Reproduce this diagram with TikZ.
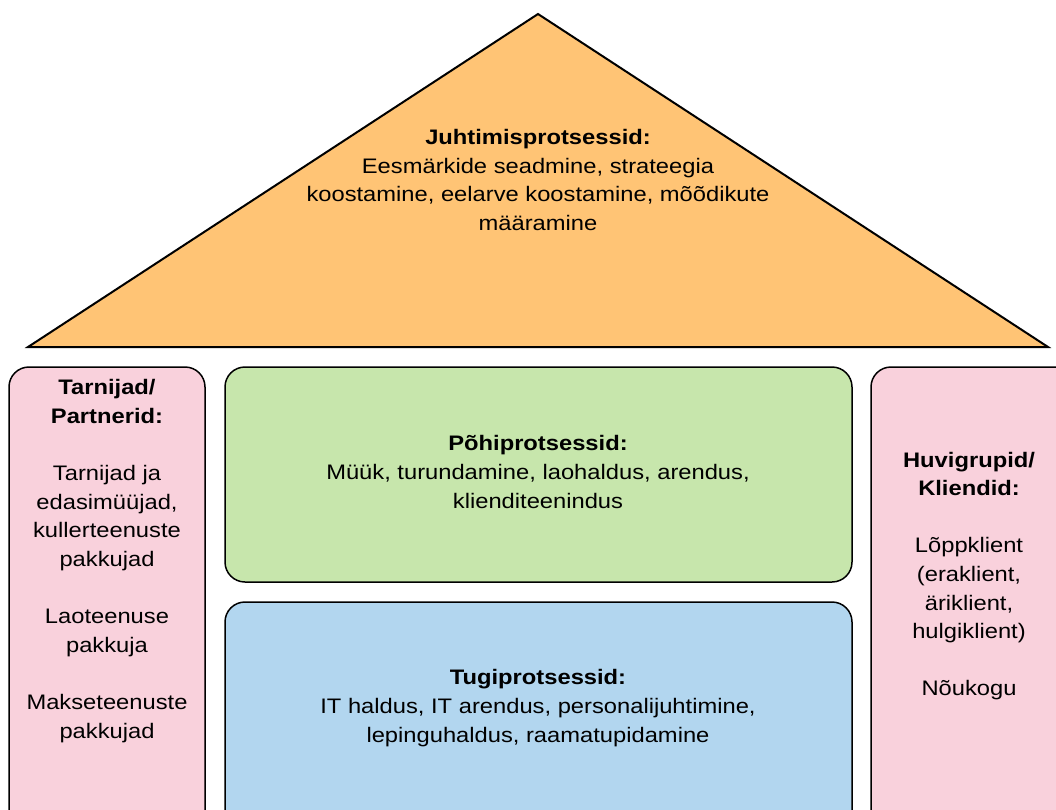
\documentclass[tikz,border=0pt]{standalone}
\usepackage{fontspec}
\setmainfont{Liberation Sans}[FakeStretch=1.13]
\definecolor{roofc}{HTML}{FFC475}
\definecolor{pinkc}{HTML}{F9D1DC}
\definecolor{greenc}{HTML}{C7E6AC}
\definecolor{bluec}{HTML}{B2D6EF}
\begin{document}
\begin{tikzpicture}[x=1pt,y=-1pt,
  panel/.style={draw=black,line width=1.5pt,rounded corners=20pt},
  label/.style={align=center,font=\fontsize{21}{28.6}\selectfont,inner sep=0pt}]
\useasboundingbox (0,0) rectangle (1056,809);
\clip (0,0) rectangle (1056,809);
% roof
\coordinate (apex) at (538,14);
\coordinate (bl) at (28,347);
\coordinate (br) at (1048,347);
\filldraw[fill=roofc,line width=2pt,line join=miter] (apex) -- (br) -- (bl) -- cycle;
\node[label] (roof) at (538,180) {\textbf{Juhtimisprotsessid:}\\Eesmärkide seadmine, strateegia\\koostamine, eelarve koostamine, mõõdikute\\määramine};
% panels
\filldraw[panel,fill=pinkc] (9,367) rectangle (205,830);
\filldraw[panel,fill=greenc] (225,367) rectangle (852,582);
\filldraw[panel,fill=bluec] (225,602) rectangle (852,830);
\filldraw[panel,fill=pinkc] (871,367) rectangle (1080,830);
% panel texts
\node[label] (partners) at (107,561) {\textbf{Tarnijad/}\\\textbf{Partnerid:}\\[28.6pt]Tarnijad ja\\edasimüüjad,\\kullerteenuste\\pakkujad\\[28.6pt]Laoteenuse\\pakkuja\\[28.6pt]Makseteenuste\\pakkujad};
\node[label] (core) at (538,472) {\textbf{Põhiprotsessid:}\\Müük, turundamine, laohaldus, arendus,\\klienditeenindus};
\node[label] (support) at (538,708) {\textbf{Tugiprotsessid:}\\IT haldus, IT arendus, personalijuhtimine,\\lepinguhaldus, raamatupidamine};
\node[label] (clients) at (969,576) {\textbf{Huvigrupid/}\\\textbf{Kliendid:}\\[28.6pt]Lõppklient\\(eraklient,\\äriklient,\\hulgiklient)\\[28.6pt]Nõukogu};
\end{tikzpicture}
\end{document}
